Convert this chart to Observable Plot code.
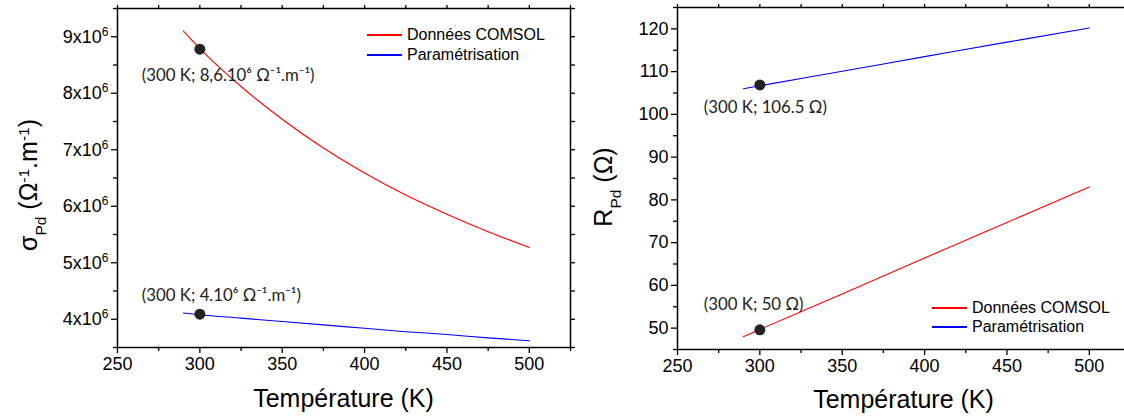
<!DOCTYPE html>
<html>
<head>
<meta charset="utf-8">
<script src="https://cdn.jsdelivr.net/npm/d3@7"></script>
<script src="https://cdn.jsdelivr.net/npm/@observablehq/plot@0.6"></script>
<style>
  html, body { margin: 0; padding: 0; background: #fff; }
  body { width: 1124px; height: 417px; overflow: hidden; position: relative; }
  .panel { position: absolute; top: 0; width: 580px; height: 417px; }
  #left { left: 0; }
  #right { left: 560px; }
  .legend { position: absolute; font-family: "Liberation Sans", Arial, sans-serif; font-size: 16px; color: #000; }
  .legend .row { position: absolute; left: 0; height: 20px; display: flex; align-items: center; white-space: nowrap; }
  .legend .sw { display: inline-block; width: 35px; height: 1.3px; margin-right: 5px; }
</style>
</head>
<body>
<div id="left" class="panel"></div>
<div id="right" class="panel"></div>
<script>
// ---------------- data ----------------
const seriesNames = ["Données COMSOL", "Paramétrisation"];
const seriesColors = ["#ff0000", "#0000ff"];

const xTicks = [250, 300, 350, 400, 450, 500];
const xMinorTicks = [275, 325, 375, 425, 475, 525];

// Left panel : conductivity sigma_Pd (Ω^-1.m^-1)
const sigmaTemps = [290, 300, 325, 350, 375, 400, 425, 450, 475, 500];
const sigmaComsol = [9.10e6, 8.79e6, 8.12e6, 7.54e6, 7.03e6, 6.59e6, 6.20e6, 5.86e6, 5.55e6, 5.27e6];
const sigmaParam = [4.11e6, 4.08e6, 4.02e6, 3.96e6, 3.90e6, 3.84e6, 3.78e6, 3.73e6, 3.67e6, 3.62e6];
const sigmaTicks = [4e6, 5e6, 6e6, 7e6, 8e6, 9e6];
const sigmaMinorTicks = [3.5e6, 4.5e6, 5.5e6, 6.5e6, 7.5e6, 8.5e6, 9.5e6];
const sigmaPointT = [300, 300];
const sigmaPointV = [8.78e6, 4.09e6];
const sigmaPointLabels = ["(300 K; 8,6.10⁶ Ω⁻¹.m⁻¹)", "(300 K; 4.10⁶ Ω⁻¹.m⁻¹)"];

// Right panel : resistance R_Pd (Ω)
const rTemps = [290, 300, 350, 400, 450, 500];
const rComsol = [48.0, 49.7, 58.0, 66.4, 74.7, 83.0];
const rParam = [106.0, 106.7, 110.1, 113.5, 116.9, 120.2];
const rTicks = [50, 60, 70, 80, 90, 100, 110, 120];
const rMinorTicks = [45, 55, 65, 75, 85, 95, 105, 115, 125];
const rPointT = [300, 300];
const rPointV = [106.9, 49.6];
const rPointLabels = ["(300 K; 106.5 Ω)", "(300 K; 50 Ω)"];

// ---------------- helpers ----------------
const tickFont = "'Liberation Sans', Arial, Helvetica, sans-serif";
const annoFont = "Lato, 'DejaVu Sans', sans-serif";

function buildPanel(cfg) {
  const series = [
    cfg.temps.map((t, i) => ({t, v: cfg.comsol[i], s: seriesNames[0]})),
    cfg.temps.map((t, i) => ({t, v: cfg.param[i], s: seriesNames[1]}))
  ];
  const points = cfg.pointT.map((t, i) => ({t, v: cfg.pointV[i], label: cfg.labels[i]}));
  const marks = [
    Plot.frame({stroke: "#000", strokeWidth: 1.5}),
    Plot.axisX(xTicks, {anchor: "bottom", tickSize: 6, tickPadding: 4, fontSize: 18, label: null, strokeWidth: 1.3}),
    Plot.axisX(xMinorTicks, {anchor: "bottom", tickSize: 4, fill: "none", label: null, strokeWidth: 1.3}),
    Plot.axisX(xTicks.concat(xMinorTicks), {anchor: "top", tickSize: 4, fill: "none", label: null, strokeWidth: 1.3}),
    Plot.axisY(cfg.yTicks, {anchor: "left", tickSize: 6, tickPadding: 3, fontSize: 18, tickFormat: cfg.yFormat, label: null, strokeWidth: 1.3}),
    Plot.axisY(cfg.yMinor, {anchor: "left", tickSize: 4, fill: "none", label: null, strokeWidth: 1.3}),
    Plot.axisY(cfg.yTicks.concat(cfg.yMinor), {anchor: "right", tickSize: 4, fill: "none", label: null, strokeWidth: 1.3}),
    Plot.line(series[0], {x: "t", y: "v", stroke: seriesColors[0], strokeWidth: 1.1, curve: "monotone-x"}),
    Plot.line(series[1], {x: "t", y: "v", stroke: seriesColors[1], strokeWidth: 1.1, curve: "monotone-x"}),
    Plot.dot(points, {x: "t", y: "v", r: 5.5, fill: "#222", stroke: "none"})
  ];
  cfg.labelOffsets.forEach((off, i) => {
    marks.push(Plot.text([points[i]], {
      x: "t", y: "v", text: "label", dx: off[0], dy: off[1],
      textAnchor: "start", fontSize: 16.8, fontFamily: annoFont, fill: "#222"
    }));
  });
  const svg = Plot.plot({
    width: 580, height: 417,
    marginLeft: 117, marginRight: 10, marginTop: cfg.marginTop, marginBottom: cfg.marginBottom,
    x: {domain: [250, 525]},
    y: {domain: cfg.yDomain},
    style: {fontFamily: tickFont, fontSize: "18px", color: "#000", background: "transparent", maxWidth: "none", overflow: "visible"},
    marks
  });
  return svg;
}

function richText(parent, x, y, rotate, size, parts) {
  const t = d3.select(parent).append("text")
    .attr("transform", `translate(${x},${y})` + (rotate ? ` rotate(${rotate})` : ""))
    .attr("text-anchor", "middle")
    .attr("font-family", tickFont)
    .attr("font-size", size)
    .attr("fill", "#000");
  parts.forEach(p => {
    const ts = t.append("tspan").text(p.t);
    if (p.sub) ts.attr("baseline-shift", "sub").attr("font-size", size * 0.62);
    if (p.sup) ts.attr("baseline-shift", "super").attr("font-size", size * 0.62);
  });
  return t;
}

function legend(container, left, top, rowGap) {
  const lg = document.createElement("div");
  lg.className = "legend";
  lg.style.left = left + "px";
  lg.style.top = top + "px";
  seriesNames.forEach((name, i) => {
    const row = document.createElement("div");
    row.className = "row";
    row.style.top = (i * rowGap) + "px";
    const sw = document.createElement("span");
    sw.className = "sw";
    sw.style.background = seriesColors[i];
    const tx = document.createElement("span");
    tx.textContent = name;
    row.appendChild(sw);
    row.appendChild(tx);
    lg.appendChild(row);
  });
  container.appendChild(lg);
}

// ---------------- left panel ----------------
const leftSvg = buildPanel({
  temps: sigmaTemps, comsol: sigmaComsol, param: sigmaParam,
  pointT: sigmaPointT, pointV: sigmaPointV, labels: sigmaPointLabels,
  yDomain: [3.5e6, 9.5e6], yTicks: sigmaTicks, yMinor: sigmaMinorTicks,
  yFormat: d => `${Math.round(d / 1e6)}x10^6`,
  marginTop: 8, marginBottom: 70,
  labelOffsets: [[-58, 26], [-58, -19]]
});
document.getElementById("left").appendChild(leftSvg);

// ---------------- right panel ----------------
const rightSvg = buildPanel({
  temps: rTemps, comsol: rComsol, param: rParam,
  pointT: rPointT, pointV: rPointV, labels: rPointLabels,
  yDomain: [45, 125], yTicks: rTicks, yMinor: rMinorTicks,
  yFormat: d => `${d}`,
  marginTop: 7, marginBottom: 68,
  labelOffsets: [[-56, 23], [-56, -25]]
});
document.getElementById("right").appendChild(rightSvg);

// superscript exponent in left tick labels
d3.select(leftSvg).selectAll('g[aria-label="y-axis tick label"] text').each(function () {
  const s = d3.select(this).text();
  const [base, exp] = s.split("^");
  const el = d3.select(this).text(null);
  el.append("tspan").text(base);
  if (exp) el.append("tspan").attr("baseline-shift", "super").attr("font-size", 12).text(exp);
});

// axis titles
richText(leftSvg, 37, 185, -90, 25, [
  {t: "σ"}, {t: "Pd", sub: true}, {t: " (Ω"}, {t: "-1", sup: true}, {t: ".m"}, {t: "-1", sup: true}, {t: ")"}
]);
richText(leftSvg, 343.5, 407, 0, 25, [{t: "Température (K)"}]);
richText(rightSvg, 52, 187, -90, 25, [{t: "R"}, {t: "Pd", sub: true}, {t: " (Ω)"}]);
richText(rightSvg, 343.5, 408, 0, 25, [{t: "Température (K)"}]);

// legends
legend(document.body, 367, 25, 20);
legend(document.body, 932, 298, 19);
</script>
</body>
</html>
